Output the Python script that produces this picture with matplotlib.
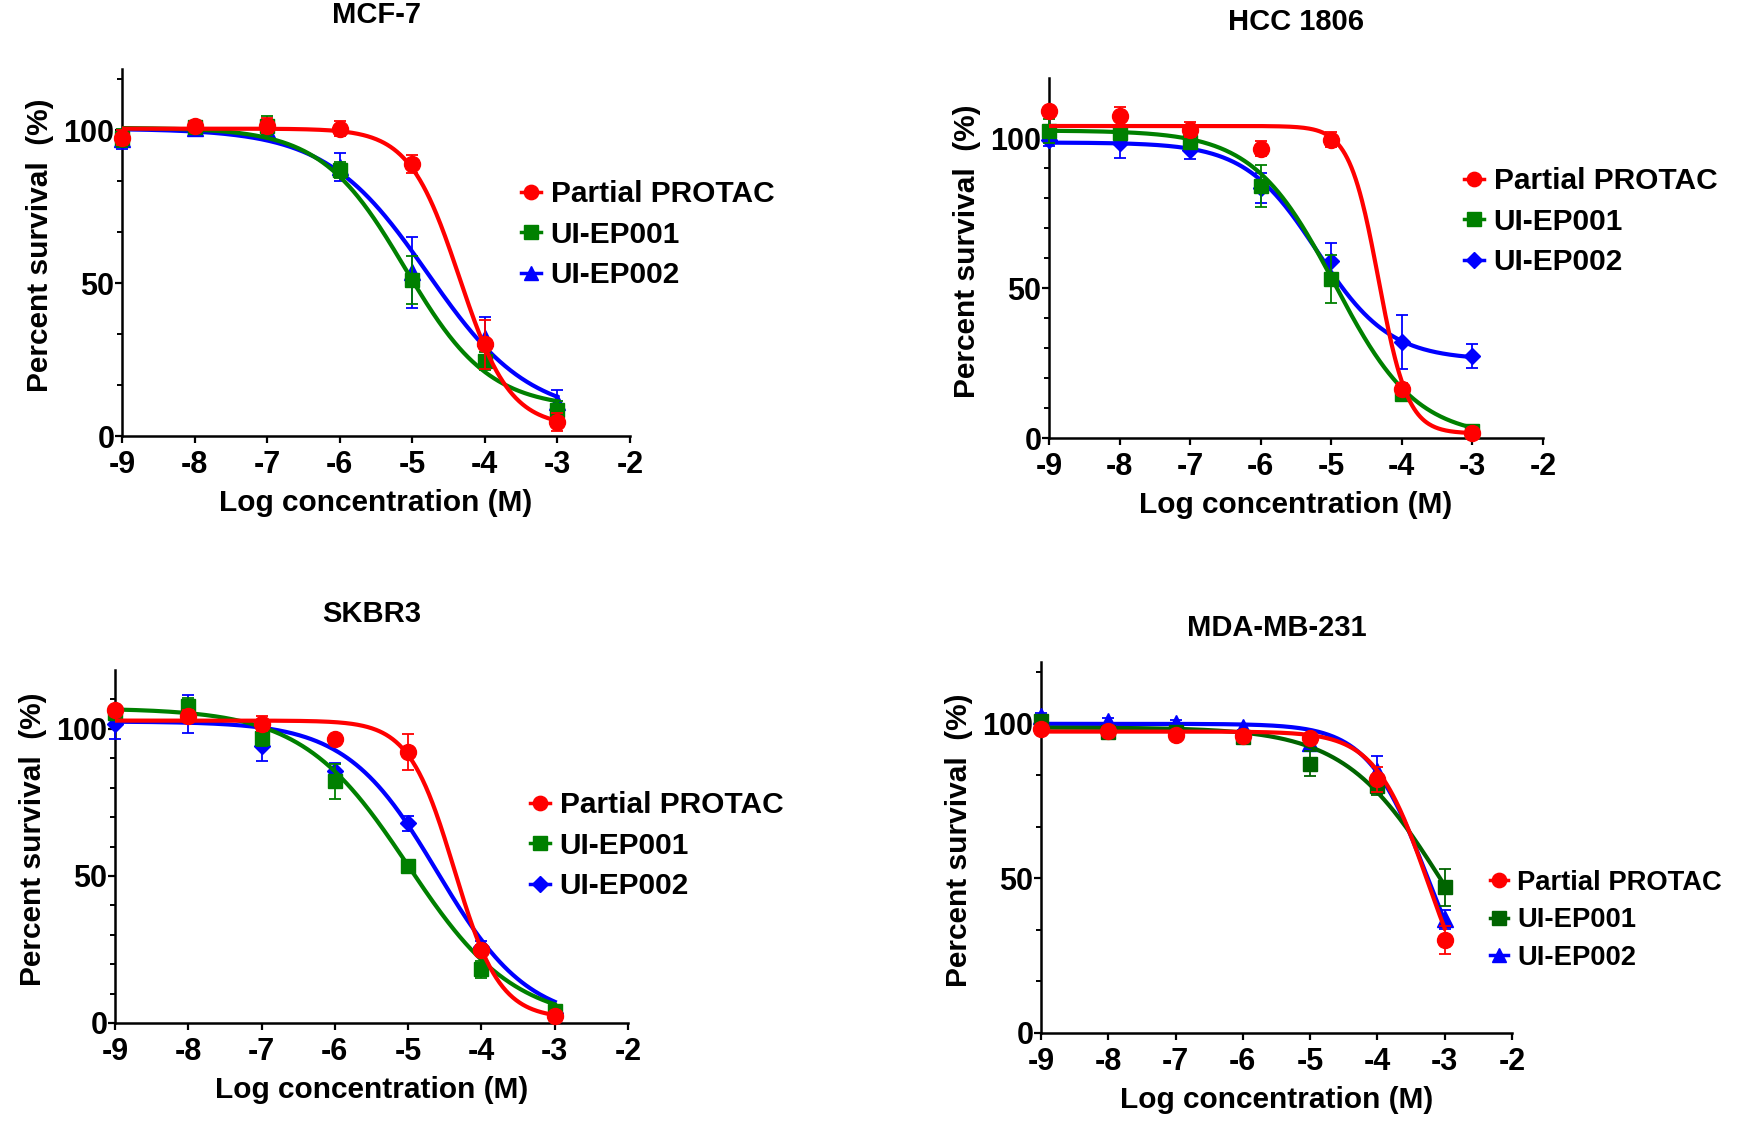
import numpy as np
import matplotlib
matplotlib.use("Agg")
import matplotlib.pyplot as plt
from matplotlib.lines import Line2D

plt.rcParams['font.family'] = ['Liberation Sans', 'DejaVu Sans']
plt.rcParams['font.weight'] = 'bold'
plt.rcParams['axes.unicode_minus'] = False

W, H = 1741, 1128

# ---- data ----
log_conc = [-9, -8, -7, -6, -5, -4, -3]
series_names = ['Partial PROTAC', 'UI-EP001', 'UI-EP002']

mcf7_protac = [97.5, 101.5, 101.5, 100.5, 89, 30, 4.5]
mcf7_protac_err = [2.5, 1.5, 2.5, 2.5, 3, 8, 3]
mcf7_ep001 = [97.5, 101, 101.5, 87, 51, 24.5, 8.5]
mcf7_ep001_err = [3, 1.5, 3, 2.5, 8, 3, 3]
mcf7_ep002 = [97, 100.8, 100, 88, 53.5, 32, 11]
mcf7_ep002_err = [3, 1.5, 2, 4.5, 11.5, 7, 4]

hcc_protac = [109, 107.3, 102.7, 96.4, 99.5, 16.2, 1.7]
hcc_protac_err = [0, 3, 2.5, 2.5, 2.5, 2, 1]
hcc_ep001 = [102.4, 101.6, 98.6, 83.9, 52.9, 14.8, 2.5]
hcc_ep001_err = [4, 2, 2, 7, 8, 1.5, 1]
hcc_ep002 = [99.5, 98.4, 96, 83.5, 59, 32, 27.4]
hcc_ep002_err = [2, 5, 3, 5, 6, 9, 4]

skbr3_protac = [106.5, 104.4, 101.8, 96.5, 92.1, 24.9, 2.4]
skbr3_protac_err = [1, 2, 2.5, 0, 6, 1.5, 1]
skbr3_ep001 = [105.3, 107.6, 97, 82.1, 53.5, 18.2, 4.1]
skbr3_ep001_err = [2, 3, 3, 6, 2, 3, 1.5]
skbr3_ep002 = [101.8, 105, 94, 85.5, 67.9, 25.9, 3.5]
skbr3_ep002_err = [5.3, 6.5, 5, 3, 2.5, 2, 1.5]

mda_protac = [98.4, 97.8, 96.4, 96, 95.5, 82.1, 30]
mda_protac_err = [1, 1, 1, 1, 1, 4, 4.5]
mda_ep001 = [100.8, 97.5, 97.5, 95.7, 87.1, 79.9, 47.2]
mda_ep001_err = [1, 1, 1, 1, 4, 3, 6]
mda_ep002 = [102.6, 101, 100.2, 99, 93.7, 84.7, 36.8]
mda_ep002_err = [1, 1, 1, 1, 1.5, 5, 3]

# fitted 4PL curves: top, bottom, logIC50, hill slope
mcf7_fit = [(100.5, 3, -4.35, 1.25), (100.8, 9, -5.1, 0.75), (100.5, 6, -4.79, 0.62)]
hcc_fit = [(104, 1.5, -4.33, 2.1), (102.5, 0, -4.95, 0.75), (98.5, 26, -5.2, 0.85)]
skbr3_fit = [(102.8, 1.5, -4.37, 1.4), (107, 0, -5.0, 0.6), (102.5, 0, -4.6, 0.7)]
mda_fit = [(97.5, 0, -3.25, 1.1), (98.8, 0, -3.05, 0.6), (100, 0, -3.25, 0.97)]


def four_pl(x, top, bottom, logic50, hill):
    return bottom + (top - bottom) / (1 + 10 ** ((x - logic50) * hill))


def draw_panel(ax, title, values, errors, fits, markers, colors, minor_step,
               title_gap, legend_px, legend_size=21.5):
    x_curve = np.linspace(-9, -3, 400)
    sizes = {'o': 11.5, 's': 10.5, '^': 11.5, 'D': 8.5}
    # blue first, red on top
    for i in [2, 1, 0]:
        z = 3 + (2 - i) * 2
        ax.plot(x_curve, four_pl(x_curve, *fits[i]), color=colors[i], lw=3, zorder=z)
        ax.errorbar(log_conc, values[i], yerr=errors[i], fmt=markers[i], color=colors[i],
                    ms=sizes[markers[i]], mec=colors[i], capsize=4.5, elinewidth=1.3,
                    capthick=1.3, clip_on=False, zorder=z + 1)

    ax.set_xlim(-9, -2)
    ax.set_ylim(0, 120)
    ax.set_xticks(range(-9, -1))
    ax.set_yticks([0, 50, 100])
    minors = [v for v in np.arange(minor_step, 120, minor_step)
              if abs(v % 50) > 1e-6 and abs(v % 50 - 50) > 1e-6]
    ax.set_yticks(minors, minor=True)
    for s in ['top', 'right']:
        ax.spines[s].set_visible(False)
    for s in ['left', 'bottom']:
        ax.spines[s].set_linewidth(1.8)
    ax.tick_params(axis='both', which='major', length=5, width=1.6, labelsize=22)
    ax.tick_params(axis='x', pad=5)
    ax.tick_params(axis='y', pad=0.5)
    ax.tick_params(axis='y', which='minor', length=3.5, width=1.4)

    bb = ax.get_position()
    w_px, h_px = bb.width * W, bb.height * H
    ax.set_xlabel('Log concentration (M)', fontsize=21.5, fontweight='bold', va='center')
    ax.xaxis.set_label_coords(0.5, -67 / h_px)
    ax.set_ylabel('Percent survival  (%)', fontsize=21.5, fontweight='bold', va='center')
    ax.yaxis.set_label_coords(-82 / w_px, 0.52)

    ax.annotate(title, xy=(0.5, 1), xycoords='axes fraction', xytext=(0, title_gap * 72 / 100),
                textcoords='offset points', ha='center', va='center', fontsize=21, fontweight='bold')

    handles = [Line2D([], [], color=colors[i], marker=markers[i], ms=sizes[markers[i]] * 0.9,
                      lw=2.5) for i in range(3)]
    hx, hy = legend_px
    ax.legend(handles, series_names, loc='upper left', frameon=False,
              bbox_to_anchor=((hx - 10) / W, 1 - (hy - 18) / H), bbox_transform=fig.transFigure,
              borderpad=0, borderaxespad=0, handlelength=0.66, handletextpad=0.33,
              labelspacing=0.42, prop={'size': legend_size, 'weight': 'bold'})


fig = plt.figure(figsize=(W / 100, H / 100), dpi=100)

red, green, dark_green, blue = '#ff0000', '#008000', '#006400', '#0000ff'

ax1 = fig.add_axes([122 / W, 1 - 436 / H, 508 / W, 367 / H])
draw_panel(ax1, 'MCF-7', [mcf7_protac, mcf7_ep001, mcf7_ep002],
           [mcf7_protac_err, mcf7_ep001_err, mcf7_ep002_err], mcf7_fit,
           ['o', 's', '^'], [red, green, blue], 50 / 3, 54, (531, 198))

ax2 = fig.add_axes([1049 / W, 1 - 438 / H, 494 / W, 360 / H])
draw_panel(ax2, 'HCC 1806', [hcc_protac, hcc_ep001, hcc_ep002],
           [hcc_protac_err, hcc_ep001_err, hcc_ep002_err], hcc_fit,
           ['o', 's', 'D'], [red, green, blue], 10, 56, (1474, 185))

ax3 = fig.add_axes([115 / W, 1 - 1023 / H, 513 / W, 353 / H])
draw_panel(ax3, 'SKBR3', [skbr3_protac, skbr3_ep001, skbr3_ep002],
           [skbr3_protac_err, skbr3_ep001_err, skbr3_ep002_err], skbr3_fit,
           ['o', 's', 'D'], [red, green, blue], 10, 56, (540, 809))

ax4 = fig.add_axes([1041 / W, 1 - 1033 / H, 471 / W, 371 / H])
draw_panel(ax4, 'MDA-MB-231', [mda_protac, mda_ep001, mda_ep002],
           [mda_protac_err, mda_ep001_err, mda_ep002_err], mda_fit,
           ['o', 's', '^'], [red, dark_green, blue], 50 / 3, 34, (1500, 888),
           legend_size=19.7)

fig.savefig('out.png', dpi=100)
